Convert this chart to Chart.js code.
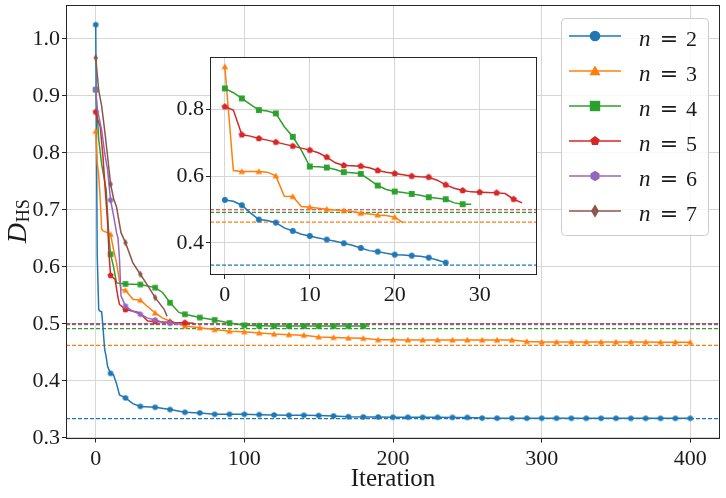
<!DOCTYPE html>
<html>
<head>
<meta charset="utf-8">
<script src="https://cdn.jsdelivr.net/npm/chart.js@4.4.1/dist/chart.umd.min.js"></script>
<style>
  html, body { margin: 0; padding: 0; background: #fff; }
  #wrap { position: relative; width: 726px; height: 498px; overflow: hidden; }
  #main { position: absolute; left: 0; top: 0; }
  #inset { position: absolute; left: 150px; top: 47px; }
</style>
</head>
<body>
<div id="wrap">
  <canvas id="main" width="726" height="498"></canvas>
  <canvas id="inset" width="400" height="265"></canvas>
</div>
<script>
// ---------- data ----------
const seriesN = ['2', '3', '4', '5', '6', '7'];
const asymptotes = [0.3337, 0.4623, 0.4917, 0.4995, 0.4985, 0.4998];

const mainXTicks = [0, 100, 200, 300, 400];
const mainYTicks = [0.3, 0.4, 0.5, 0.6, 0.7, 0.8, 0.9, 1.0];
const mainXRange = [-20, 420];
const mainYRange = [0.2987, 1.0596];

const n2Iter = [0, 1, 2, 3, 4, 5, 6, 7, 8, 10, 12, 14, 16, 20, 25, 30, 40, 50, 60, 70, 80, 90, 100,
  110, 120, 130, 140, 150, 160, 170, 180, 190, 200, 210, 220, 230, 240, 250, 260, 270, 280, 290, 300,
  310, 320, 330, 340, 350, 360, 370, 380, 390, 400];
const n2Val = [1.025, 0.62, 0.525, 0.522, 0.521, 0.49, 0.455, 0.443, 0.425, 0.413, 0.410, 0.395, 0.375,
  0.370, 0.360, 0.355, 0.3535, 0.3495, 0.3447, 0.3436, 0.3412, 0.3412, 0.3412, 0.3406, 0.3400, 0.3395,
  0.3395, 0.3390, 0.3383, 0.3370, 0.3365, 0.3365, 0.3360, 0.3360, 0.3358, 0.3358, 0.3357, 0.3357,
  0.3345, 0.3344, 0.3344, 0.3343, 0.3343, 0.3343, 0.3342, 0.3342, 0.3342, 0.3342, 0.3341, 0.3341,
  0.3341, 0.3341, 0.3341];

const n3Iter = [0, 1, 2, 3, 4, 5, 7, 9, 10, 12, 14, 16, 17, 20, 25, 30, 35, 40, 45, 50, 60, 70, 80, 90,
  100, 110, 120, 130, 140, 150, 160, 170, 180, 190, 200, 210, 220, 230, 240, 250, 260, 270, 280, 290,
  300, 310, 320, 330, 340, 350, 360, 370, 380, 390, 400];
const n3Val = [0.838, 0.783, 0.76, 0.72, 0.666, 0.663, 0.661, 0.658, 0.657, 0.63, 0.607, 0.575, 0.56,
  0.559, 0.543, 0.5415, 0.53, 0.519, 0.51, 0.505, 0.496, 0.493, 0.490, 0.487, 0.486, 0.484, 0.482,
  0.481, 0.480, 0.477, 0.476, 0.475, 0.4745, 0.472, 0.472, 0.4716, 0.4716, 0.4716, 0.4716, 0.4716,
  0.4715, 0.4714, 0.4714, 0.469, 0.468, 0.468, 0.468, 0.468, 0.468, 0.468, 0.468, 0.468, 0.4678,
  0.4678, 0.4675];

const n4Iter = [0, 1, 2, 4, 7, 9, 10, 12, 14, 16, 20, 30, 40, 45, 50, 56, 60, 70, 80, 90, 100, 110,
  120, 130, 140, 150, 160, 170, 180, 184];
const n4Val = [0.911, 0.87, 0.824, 0.78, 0.736, 0.648, 0.622, 0.60, 0.572, 0.571, 0.570, 0.569, 0.5635,
  0.555, 0.537, 0.52, 0.5167, 0.511, 0.5067, 0.5014, 0.4974, 0.4965, 0.496, 0.496, 0.496, 0.496,
  0.496, 0.496, 0.496, 0.496];

const n5Iter = [0, 1, 3, 5, 6, 8, 9, 10, 13, 15, 16, 20, 29, 35, 40, 50, 60, 66];
const n5Val = [0.872, 0.86, 0.847, 0.79, 0.75, 0.678, 0.62, 0.585, 0.578, 0.546, 0.534, 0.525, 0.52,
  0.505, 0.504, 0.5025, 0.502, 0.501];

const n6Iter = [0, 1, 2, 4, 6, 8, 10, 12, 14, 15, 16, 17, 20, 25, 30, 35, 40, 45, 50, 58];
const n6Val = [0.911, 0.878, 0.865, 0.84, 0.80, 0.77, 0.717, 0.69, 0.66, 0.65, 0.613, 0.549, 0.531,
  0.522, 0.5167, 0.51, 0.5067, 0.503, 0.501, 0.500];

const n7Iter = [0, 2, 4, 6, 8, 10, 12, 14, 17, 20, 25, 30, 35, 40, 46, 48];
const n7Val = [0.967, 0.91, 0.882, 0.84, 0.794, 0.745, 0.72, 0.705, 0.66, 0.6425, 0.607, 0.587, 0.567,
  0.546, 0.5255, 0.513];

// inset: one value per iteration, starting at 0
const insetXTicks = [0, 10, 20, 30];
const insetYTicks = [0.4, 0.6, 0.8];
const insetXRange = [-1.75, 36.75];
const insetYRange = [0.304, 0.957];
const insetN2 = [0.529, 0.525, 0.513, 0.49, 0.470, 0.467, 0.461, 0.445, 0.436, 0.426, 0.421, 0.415,
  0.410, 0.405, 0.399, 0.393, 0.385, 0.377, 0.374, 0.369, 0.365, 0.364, 0.362, 0.360, 0.356, 0.349, 0.341];
const insetN3 = [0.928, 0.617, 0.614, 0.614, 0.614, 0.612, 0.601, 0.54, 0.539, 0.509, 0.507, 0.504,
  0.501, 0.499, 0.497, 0.494, 0.489, 0.487, 0.484, 0.482, 0.477, 0.46];
const insetN4 = [0.863, 0.85, 0.833, 0.815, 0.798, 0.795, 0.788, 0.748, 0.718, 0.678, 0.629, 0.628,
  0.626, 0.62, 0.612, 0.61, 0.607, 0.59, 0.572, 0.56, 0.554, 0.551, 0.547, 0.543, 0.537, 0.534, 0.531,
  0.52, 0.516, 0.516];
const insetN5 = [0.808, 0.798, 0.724, 0.72, 0.713, 0.708, 0.702, 0.696, 0.690, 0.684, 0.678, 0.67,
  0.657, 0.64, 0.632, 0.631, 0.630, 0.625, 0.617, 0.612, 0.608, 0.604, 0.600, 0.598, 0.597, 0.588,
  0.574, 0.564, 0.557, 0.553, 0.552, 0.551, 0.550, 0.548, 0.531, 0.520];

// ---------- style ----------
const colors = ['#1f77b4', '#ff7f0e', '#2ca02c', '#d62728', '#9467bd', '#8c564b'];
const markerKinds = ['circle', 'triangle', 'square', 'pentagon', 'hexagon', 'thin_diamond'];
const dataMarkerSize = [2.8, 3.7, 2.8, 3.3, 3.0, 3.8];
const legendMarkerSize = [5.3, 6.4, 5.2, 5.0, 5.2, 6.8];
const serif = "'Liberation Serif', 'DejaVu Serif', serif";
const gridColor = '#d6d6d6';
const axisColor = '#262626';

function shapePath(ctx, kind, x, y, r) {
  ctx.beginPath();
  if (kind === 'circle') {
    ctx.arc(x, y, r, 0, Math.PI * 2);
  } else if (kind === 'square') {
    ctx.rect(x - r, y - r, 2 * r, 2 * r);
  } else if (kind === 'thin_diamond') {
    ctx.moveTo(x, y - r);
    ctx.lineTo(x + r * 0.58, y);
    ctx.lineTo(x, y + r);
    ctx.lineTo(x - r * 0.58, y);
    ctx.closePath();
  } else {
    const sides = { triangle: 3, pentagon: 5, hexagon: 6 }[kind];
    const dy = kind === 'triangle' ? r * 0.15 : 0;
    for (let i = 0; i < sides; i++) {
      const a = -Math.PI / 2 + i * 2 * Math.PI / sides;
      const px = x + r * Math.cos(a), py = y + dy + r * Math.sin(a);
      if (i === 0) ctx.moveTo(px, py); else ctx.lineTo(px, py);
    }
    ctx.closePath();
  }
}

function markerImage(kind, r, color) {
  const s = Math.ceil(2 * r + 4);
  const c = document.createElement('canvas');
  c.width = s; c.height = s;
  const g = c.getContext('2d');
  g.fillStyle = color;
  shapePath(g, kind, s / 2, s / 2, r);
  g.fill();
  return c;
}

function toPoints(xs, ys) {
  return xs.map((x, i) => ({ x: x, y: ys[i] }));
}
function indexPoints(ys) {
  return ys.map((y, i) => ({ x: i, y: y }));
}

function fixedAxis(ticksArr, size, horizontal) {
  return {
    afterBuildTicks: s => { s.ticks = ticksArr.map(v => ({ value: v })); },
    afterFit: s => {
      if (horizontal) s.height = size; else s.width = size;
      s.paddingTop = 0; s.paddingBottom = 0; s.paddingLeft = 0; s.paddingRight = 0;
    }
  };
}

const framePlugin = {
  id: 'frame',
  beforeDraw(chart, args, opts) {
    if (!opts.fill) return;
    const a = chart.chartArea, ctx = chart.ctx;
    ctx.save();
    ctx.fillStyle = '#ffffff';
    ctx.fillRect(a.left, a.top, a.right - a.left, a.bottom - a.top);
    ctx.restore();
  },
  afterDraw(chart) {
    const a = chart.chartArea, ctx = chart.ctx;
    ctx.save();
    ctx.strokeStyle = axisColor;
    ctx.lineWidth = 1;
    ctx.strokeRect(Math.round(a.left) + 0.5, Math.round(a.top) + 0.5,
      Math.round(a.right - a.left) - 1, Math.round(a.bottom - a.top) - 1);
    ctx.restore();
  }
};

const legendPlugin = {
  id: 'mplLegend',
  afterDraw(chart) {
    const ctx = chart.ctx;
    const L = 561, T = 18, W = 147, H = 217;
    ctx.save();
    ctx.beginPath();
    ctx.roundRect(L + 0.5, T + 0.5, W, H, 4);
    ctx.fillStyle = 'rgba(255,255,255,0.8)';
    ctx.fill();
    ctx.strokeStyle = '#cccccc';
    ctx.lineWidth = 1;
    ctx.stroke();
    seriesN.forEach((n, i) => {
      const y = 36 + i * 35;
      ctx.strokeStyle = colors[i];
      ctx.lineWidth = 1.5;
      ctx.beginPath();
      ctx.moveTo(569, y);
      ctx.lineTo(621, y);
      ctx.stroke();
      ctx.fillStyle = colors[i];
      shapePath(ctx, markerKinds[i], 595, y, legendMarkerSize[i]);
      ctx.fill();
      ctx.fillStyle = '#1a1a1a';
      ctx.textBaseline = 'alphabetic';
      ctx.textAlign = 'left';
      ctx.font = "italic 23px " + serif;
      ctx.fillText('n', 639, y + 9.5);
      ctx.font = "22px 'DejaVu Serif', serif";
      ctx.textAlign = 'center';
      ctx.fillText('=', 669, y + 9.5);
      ctx.textAlign = 'left';
      ctx.font = "22px " + serif;
      ctx.fillText(n, 686, y + 9.5);
    });
    ctx.restore();
  }
};

const yTitlePlugin = {
  id: 'yTitle',
  afterDraw(chart) {
    const ctx = chart.ctx;
    const a = chart.chartArea;
    ctx.save();
    ctx.translate(26, (a.top + a.bottom) / 2);
    ctx.rotate(-Math.PI / 2);
    ctx.fillStyle = '#1a1a1a';
    ctx.textBaseline = 'alphabetic';
    ctx.font = "italic 28px " + serif;
    const wD = ctx.measureText('D').width;
    ctx.font = "18px " + serif;
    const wS = ctx.measureText('HS').width;
    const x0 = -(wD + wS) / 2;
    ctx.font = "italic 28px " + serif;
    ctx.fillText('D', x0, 0);
    ctx.font = "18px " + serif;
    ctx.fillText('HS', x0 + wD + 1, 3);
    ctx.restore();
  }
};

function lineDatasets(seriesList, markEvery, sizeScale) {
  return seriesList.map((pts, i) => {
    const img = markerImage(markerKinds[i], dataMarkerSize[i] * sizeScale, colors[i]);
    return {
      label: 'n = ' + seriesN[i],
      data: pts,
      borderColor: colors[i],
      backgroundColor: colors[i],
      borderWidth: 1.5,
      pointStyle: img,
      pointRadius: c => (c.raw && c.raw.x % markEvery === 0 ? 3 : 0),
      pointBorderWidth: 0,
      tension: 0,
      order: 20 - i
    };
  });
}

function dashedDatasets(count, xRange) {
  const out = [];
  for (let i = 0; i < count; i++) {
    out.push({
      label: 'limit ' + seriesN[i],
      data: [{ x: xRange[0], y: asymptotes[i] }, { x: xRange[1], y: asymptotes[i] }],
      borderColor: colors[i],
      borderWidth: 1.2,
      borderDash: [4, 2],
      pointRadius: 0,
      order: 40 - i
    });
  }
  return out;
}

const tickFont = { family: serif, size: 22 };

// ---------- main chart ----------
const mainSeries = [
  toPoints(n2Iter, n2Val), toPoints(n3Iter, n3Val), toPoints(n4Iter, n4Val),
  toPoints(n5Iter, n5Val), toPoints(n6Iter, n6Val), toPoints(n7Iter, n7Val)
];

new Chart(document.getElementById('main'), {
  type: 'line',
  data: { datasets: lineDatasets(mainSeries, 10, 1).concat(dashedDatasets(6, mainXRange)) },
  options: {
    responsive: false,
    animation: false,
    events: [],
    layout: { padding: { left: 0, right: 6, top: 5, bottom: 0 } },
    plugins: { legend: { display: false }, tooltip: { enabled: false }, frame: { fill: false } },
    scales: {
      x: Object.assign({
        type: 'linear', min: mainXRange[0], max: mainXRange[1],
        grid: { color: gridColor, lineWidth: 1, tickColor: axisColor, tickLength: 4 },
        border: { display: false },
        ticks: { font: tickFont, color: '#1a1a1a', padding: 4, maxRotation: 0, callback: v => String(v) },
        title: { display: true, text: 'Iteration', font: { family: serif, size: 25 }, color: '#1a1a1a',
          padding: { top: 0, bottom: 4 } }
      }, fixedAxis(mainXTicks, 59.5, true)),
      y: Object.assign({
        type: 'linear', min: mainYRange[0], max: mainYRange[1],
        grid: { color: gridColor, lineWidth: 1, tickColor: axisColor, tickLength: 4 },
        border: { display: false },
        ticks: { font: tickFont, color: '#1a1a1a', padding: 2, callback: v => v.toFixed(1) }
      }, fixedAxis(mainYTicks, 66, false))
    }
  },
  plugins: [framePlugin, legendPlugin, yTitlePlugin]
});

// ---------- inset ----------
const insetSeries = [indexPoints(insetN2), indexPoints(insetN3), indexPoints(insetN4), indexPoints(insetN5)];

new Chart(document.getElementById('inset'), {
  type: 'line',
  data: { datasets: lineDatasets(insetSeries, 2, 1.05).concat(dashedDatasets(4, insetXRange)) },
  options: {
    responsive: false,
    animation: false,
    events: [],
    layout: { padding: { left: 0, right: 13, top: 10, bottom: 0 } },
    plugins: { legend: { display: false }, tooltip: { enabled: false }, frame: { fill: true } },
    scales: {
      x: Object.assign({
        type: 'linear', min: insetXRange[0], max: insetXRange[1],
        grid: { color: gridColor, lineWidth: 1, tickColor: axisColor, tickLength: 4 },
        border: { display: false },
        ticks: { font: tickFont, color: '#1a1a1a', padding: 3, maxRotation: 0, callback: v => String(v) }
      }, fixedAxis(insetXTicks, 37, true)),
      y: Object.assign({
        type: 'linear', min: insetYRange[0], max: insetYRange[1],
        grid: { color: gridColor, lineWidth: 1, tickColor: axisColor, tickLength: 4 },
        border: { display: false },
        ticks: { font: tickFont, color: '#1a1a1a', padding: 2, callback: v => v.toFixed(1) }
      }, fixedAxis(insetYTicks, 60, false))
    }
  },
  plugins: [framePlugin]
});
</script>
</body>
</html>
